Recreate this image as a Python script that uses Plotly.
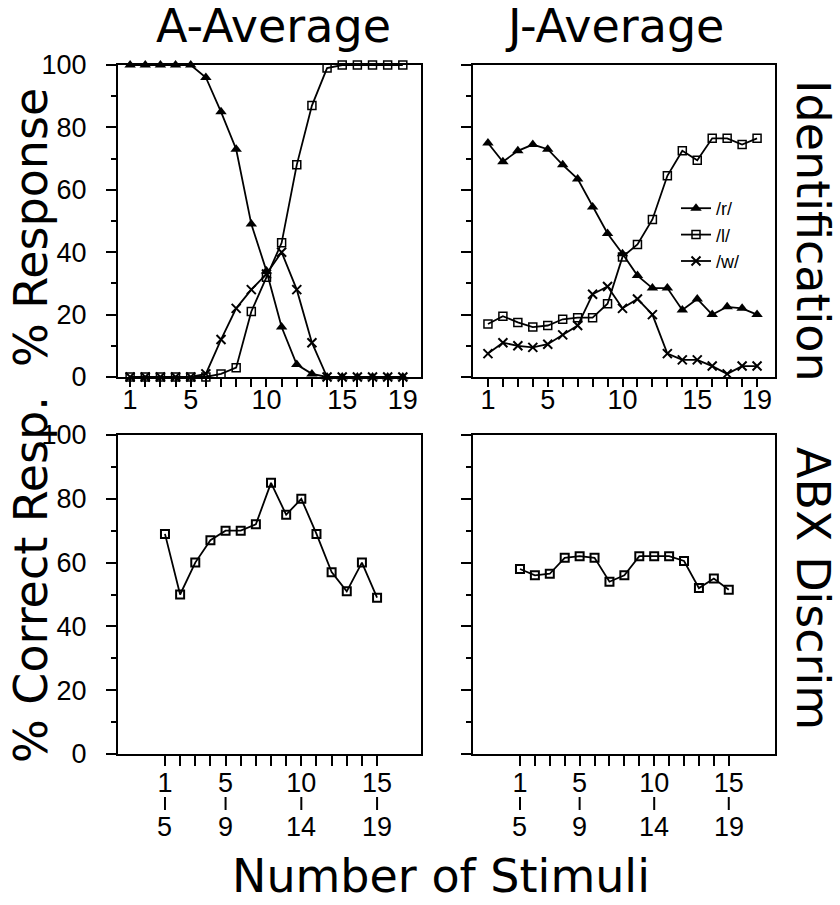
import plotly.graph_objects as go

# ---------------- data ----------------
stimuli = list(range(1, 20))
stim_tick_labels = ["1", "5", "10", "15", "19"]
stim_tick_vals = [1, 5, 10, 15, 19]

a_r = [100, 100, 100, 100, 100, 96, 85, 73, 49, 34, 16, 4, 1, 0, 0, 0, 0, 0, 0]
a_l = [0, 0, 0, 0, 0, 0, 1, 3, 21, 32, 43, 68, 87, 99, 100, 100, 100, 100, 100]
a_w = [0, 0, 0, 0, 0, 1, 12, 22, 28, 33, 40, 28, 11, 0, 0, 0, 0, 0, 0]

j_r = [75, 69, 72.5, 74.5, 73, 68, 63.5, 54.5, 46, 39.5, 32.5, 28.5, 28.5, 21.5, 25, 20, 22.5, 22, 20]
j_l = [17, 19.5, 17.5, 16, 16.5, 18.5, 19, 19, 23.5, 38.5, 42.5, 50.5, 64.5, 72.5, 69.5, 76.5, 76.5, 74.5, 76.5]
j_w = [7.5, 11, 10, 9.5, 10.5, 13.5, 16.5, 26.5, 29, 22, 25, 20, 7.5, 5.5, 5.5, 3.5, 1, 3.5, 3.5]

pairs = list(range(1, 16))
pair_tick_vals = [1, 5, 10, 15]
pair_tick_top = ["1", "5", "10", "15"]
pair_tick_bottom = ["5", "9", "14", "19"]

a_abx = [69, 50, 60, 67, 70, 70, 72, 85, 75, 80, 69, 57, 51, 60, 49]
j_abx = [58, 56, 56.5, 61.5, 62, 61.5, 54, 56, 62, 62, 62, 60.5, 52, 55, 51.5]

series_names = ["/r/", "/l/", "/w/"]

# ---------------- layout helpers ----------------
W, H = 840, 905


def fx(p):
    return p / W


def fy(p):
    return 1 - p / H


TICK_FAMILY = "Liberation Sans Narrow, Liberation Sans, Arial"
BIG_FAMILY = "DejaVu Sans, Liberation Sans, Arial"
tick_font = dict(family=TICK_FAMILY, size=27, color="black")
big_font = dict(family=BIG_FAMILY, size=46, color="black")

LINE = dict(color="black", width=1.8)
M_R = dict(symbol="triangle-up", size=10, color="black")
M_L = dict(symbol="square-open", size=8, color="black", line=dict(width=1.5, color="black"))
M_W = dict(symbol="x-thin", size=9, color="black", line=dict(width=2, color="black"))
M_ABX = dict(symbol="square-open", size=8, color="black", line=dict(width=2, color="black"))

fig = go.Figure()


def add(x, y, xa, ya, marker, name=None, legend=False):
    fig.add_trace(go.Scatter(
        x=x, y=y, xaxis=xa, yaxis=ya, mode="lines+markers",
        line=LINE, marker=marker, name=name, showlegend=legend,
        cliponaxis=False,
    ))


# top-left: A identification
add(stimuli, a_r, "x", "y", M_R)
add(stimuli, a_l, "x", "y", M_L)
add(stimuli, a_w, "x", "y", M_W)
# top-right: J identification (legend)
add(stimuli, j_r, "x2", "y2", M_R, series_names[0], True)
add(stimuli, j_l, "x2", "y2", M_L, series_names[1], True)
add(stimuli, j_w, "x2", "y2", M_W, series_names[2], True)
# bottom: ABX discrimination
add(pairs, a_abx, "x3", "y3", M_ABX)
add(pairs, j_abx, "x4", "y4", M_ABX)

common_axis = dict(
    showline=True, mirror=True, linecolor="black", linewidth=2,
    showgrid=False, zeroline=False, ticks="outside", tickcolor="black",
    tickwidth=1.5, tickfont=tick_font, automargin=False,
)


def yaxis(top, bottom, anchor, labels):
    return dict(
        common_axis, domain=[fy(bottom), fy(top)], anchor=anchor,
        range=[0, 100], tick0=0, dtick=20, ticklen=10,
        minor=dict(ticks="outside", dtick=10, ticklen=5, tickwidth=1.5, tickcolor="black"),
        showticklabels=labels, ticklabelstandoff=14,
    )


def xaxis_top(left, right, anchor, rng):
    return dict(
        common_axis, domain=[fx(left), fx(right)], anchor=anchor, range=rng,
        tickmode="array", tickvals=stimuli,
        ticktext=[str(s) if s in stim_tick_vals else "" for s in stimuli],
        ticklen=8, ticklabelstandoff=-10,
    )


def xaxis_bottom(left, right, anchor, rng):
    return dict(
        common_axis, domain=[fx(left), fx(right)], anchor=anchor, range=rng,
        tickmode="array", tickvals=pairs,
        ticktext=[pair_tick_top[pair_tick_vals.index(p)] if p in pair_tick_vals else "" for p in pairs],
        ticklen=10, ticklabelstandoff=-6,
    )


fig.update_layout(
    width=W, height=H,
    margin=dict(l=0, r=0, t=0, b=0, pad=0, autoexpand=False),
    paper_bgcolor="white", plot_bgcolor="white",
    xaxis=xaxis_top(118, 421, "y", [0.2, 20.2]),
    yaxis=yaxis(65, 377, "x", True),
    xaxis2=xaxis_top(473, 775, "y2", [0.0, 20.2]),
    yaxis2=yaxis(65, 377, "x2", False),
    xaxis3=xaxis_bottom(118, 421, "y3", [-2.1, 17.9]),
    yaxis3=yaxis(435, 754, "x3", True),
    xaxis4=xaxis_bottom(473, 775, "y4", [-2.15, 18.1]),
    yaxis4=yaxis(435, 754, "x4", False),
    legend=dict(
        x=fx(676), y=fy(190), xanchor="left", yanchor="top",
        font=dict(family="Liberation Sans, Arial", size=18, color="black"),
        bgcolor="rgba(0,0,0,0)", borderwidth=0, tracegroupgap=0,
        itemwidth=30,
    ),
    showlegend=True,
)

annotations = []
# panel titles
annotations.append(dict(text="A-Average", x=fx(273), y=fy(26), xref="paper", yref="paper",
                        showarrow=False, font=big_font, xanchor="center", yanchor="middle"))
annotations.append(dict(text="J-Average", x=fx(614), y=fy(26), xref="paper", yref="paper",
                        showarrow=False, font=big_font, xanchor="center", yanchor="middle"))
# left axis titles
annotations.append(dict(text="% Response", x=fx(31), y=fy(228), xref="paper", yref="paper",
                        showarrow=False, font=big_font, textangle=-90, xanchor="center", yanchor="middle"))
annotations.append(dict(text="% Correct Resp.", x=fx(31), y=fy(580), xref="paper", yref="paper",
                        showarrow=False, font=big_font, textangle=-90, xanchor="center", yanchor="middle"))
# right side labels
annotations.append(dict(text="Identification", x=fx(813), y=fy(231), xref="paper", yref="paper",
                        showarrow=False, font=big_font, textangle=90, xanchor="center", yanchor="middle"))
annotations.append(dict(text="ABX Discrim", x=fx(813), y=fy(588), xref="paper", yref="paper",
                        showarrow=False, font=big_font, textangle=90, xanchor="center", yanchor="middle"))
# bottom title
annotations.append(dict(text="Number of Stimuli", x=fx(441), y=fy(876), xref="paper", yref="paper",
                        showarrow=False, font=big_font, xanchor="center", yanchor="middle"))
# second-row tick labels of the discrimination axes (pair end stimuli)
shapes = []
for xr in ("x3", "x4"):
    for v, lab in zip(pair_tick_vals, pair_tick_bottom):
        shapes.append(dict(type="line", xref=xr, yref="paper", x0=v, x1=v,
                           y0=fy(797), y1=fy(810), line=dict(color="black", width=2)))
        annotations.append(dict(text=lab, x=v, y=fy(827), xref=xr, yref="paper", showarrow=False,
                                font=tick_font, xanchor="center", yanchor="middle"))
fig.update_layout(annotations=annotations, shapes=shapes)

fig.write_html("out.html")
